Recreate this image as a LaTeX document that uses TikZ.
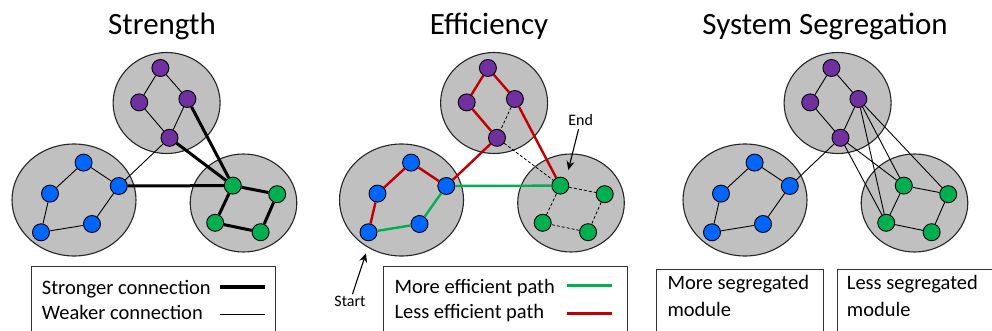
\documentclass[tikz,border=0pt]{standalone}
\usepackage{fontspec}
\setmainfont{Carlito}
\usetikzlibrary{arrows.meta}

\definecolor{modgray}{RGB}{192,192,192}
\definecolor{netpurple}{RGB}{112,48,160}
\definecolor{netblue}{RGB}{0,102,255}
\definecolor{netgreen}{RGB}{0,176,80}
\definecolor{pathred}{RGB}{192,0,0}

% three modules (discs + nodes), placed once per panel
\newcommand{\modulelayout}{%
  \filldraw[module] (166.6,103) ellipse [x radius=53.5, y radius=50.5];
  \filldraw[module] (74,200) ellipse [x radius=62, y radius=56];
  \filldraw[module] (243.5,203) ellipse [x radius=53.3, y radius=49];
  % purple module
  \node[vert,fill=netpurple] (p1) at (160.4,68) {};
  \node[vert,fill=netpurple] (p2) at (139.2,102.4) {};
  \node[vert,fill=netpurple] (p3) at (187.4,99) {};
  \node[vert,fill=netpurple] (p4) at (169.5,137.8) {};
  % blue module
  \node[vert,fill=netblue] (b1) at (83.6,162.6) {};
  \node[vert,fill=netblue] (b2) at (50,193.6) {};
  \node[vert,fill=netblue] (b3) at (118.8,186) {};
  \node[vert,fill=netblue] (b4) at (41,232.3) {};
  \node[vert,fill=netblue] (b5) at (92,224) {};
  % green module
  \node[vert,fill=netgreen] (g1) at (232.8,185.6) {};
  \node[vert,fill=netgreen] (g2) at (277.2,194.2) {};
  \node[vert,fill=netgreen] (g3) at (215.2,222.8) {};
  \node[vert,fill=netgreen] (g4) at (260.6,232.2) {};
}

\begin{document}
\begin{tikzpicture}[x=1pt,y=-1pt,
  module/.style={fill=modgray,draw=black!85,line width=1.1pt},
  vert/.style={circle,draw=black,line width=0.9pt,minimum size=17pt,inner sep=0pt},
  weak/.style={line width=0.9pt},
  strong/.style={line width=3pt},
  better/.style={netgreen,line width=2.4pt},
  worse/.style={pathred,line width=2.4pt},
  unused/.style={line width=0.8pt,dash pattern=on 3pt off 2pt},
  title/.style={font=\fontsize{31}{36}\selectfont,anchor=base},
  legtext/.style={font=\fontsize{20.5}{24}\selectfont,anchor=base west,inner sep=0pt},
  legbox/.style={draw=black!80,line width=0.8pt},
  small/.style={font=\fontsize{16}{19}\selectfont,anchor=base,inner sep=0pt}]

\useasboundingbox (0,0) rectangle (992,331);

\node[title] (strtitle) at (162,35) {Strength};
\node[title] (efftitle) at (489,35) {Efficiency};
\node[title] (segtitle) at (825,35) {System Segregation};

% Strength
\begin{scope}[name prefix=s-]
\modulelayout
\draw[weak] (p1) -- (p2) (p1) -- (p3) (p2) -- (p4) (p3) -- (p4);
\draw[weak] (b1) -- (b2) (b2) -- (b4) (b4) -- (b5) (b5) -- (b3) (b3) -- (b1);
\draw[strong] (g1) -- (g2) (g2) -- (g4) (g4) -- (g3) (g3) -- (g1);
\draw[weak] (p4) -- (b3);
\draw[strong] (b3) -- (g1) (p4) -- (g1) (p3) -- (g1);
\end{scope}

% Efficiency
\begin{scope}[xshift=327.5,name prefix=e-]
\modulelayout
\draw[worse] (b4) -- (b2) (b2) -- (b1) (b1) -- (b3) (b3) -- (p4)
  (p4) -- (p2) (p2) -- (p1) (p1) -- (p3) (p3) -- (g1);
\draw[better] (b4) -- (b5) (b5) -- (b3) (b3) -- (g1);
\draw[unused] (p3) -- (p4) (p4) -- (g1);
\draw[unused] (g1) -- (g2) (g2) -- (g4) (g4) -- (g3) (g3) -- (g1);
\end{scope}

\node[small] (endlbl) at (580.7,126) {End};
\coordinate (endtip) at (568.3,170);
\draw[-{Stealth[length=9pt,width=8pt]},line width=1.1pt,shorten <=3pt] (endlbl) -- (endtip);
\node[small] (startlbl) at (350,306.7) {Start};
\coordinate (starttip) at (366,253.3);
\draw[-{Stealth[length=9pt,width=8pt]},line width=1.1pt,shorten <=2pt] (startlbl) -- (starttip);

% System segregation
\begin{scope}[xshift=671,name prefix=g-]
\modulelayout
\draw[weak] (p1) -- (p2) (p1) -- (p3) (p2) -- (p4) (p3) -- (p4);
\draw[weak] (b1) -- (b2) (b2) -- (b4) (b4) -- (b5) (b5) -- (b3) (b3) -- (b1);
\draw[weak] (g1) -- (g2) (g2) -- (g4) (g4) -- (g3) (g3) -- (g1);
\draw[weak] (p4) -- (b3) (p4) -- (g3) (p4) -- (g1)
  (p3) -- (g3) (p3) -- (g1) (p3) -- (g2);
\end{scope}

% legends
\draw[legbox] (31.7,340) |- (275.3,266.7) -- (275.3,340);
\node[legtext] (strong) at (41.7,294) {Stronger connection};
\node[legtext] (weakt) at (41.7,319) {Weaker connection};
\coordinate (sa) at (220,287.3); \coordinate (sb) at (265,287.3);
\coordinate (wa) at (220,314.3); \coordinate (wb) at (265,314.3);
\draw[line width=4pt] (sa) -- (sb);
\draw[line width=1.2pt] (wa) -- (wb);

\draw[legbox] (383.3,340) |- (627.3,266) -- (627.3,340);
\node[legtext] (moreeff) at (394.3,293.3) {More efficient path};
\node[legtext] (lesseff) at (394.3,318.3) {Less efficient path};
\coordinate (ma) at (567.3,285.7); \coordinate (mb) at (611.7,285.7);
\coordinate (la) at (567.3,313.3); \coordinate (lb) at (611.7,313.3);
\draw[better,line width=3pt] (ma) -- (mb);
\draw[worse,line width=3pt] (la) -- (lb);

\draw[legbox] (656.7,340) |- (823.3,269) -- (823.3,340);
\node[legtext] (moreseg) at (667.3,289.3) {More segregated};
\node[legtext] (moresegb) at (667.3,316.7) {module};
\draw[legbox] (837.7,340) |- (1000,269);
\node[legtext] (lessseg) at (846.7,289.3) {Less segregated};
\node[legtext] (lesssegb) at (846.7,316.7) {module};
\end{tikzpicture}
\end{document}
